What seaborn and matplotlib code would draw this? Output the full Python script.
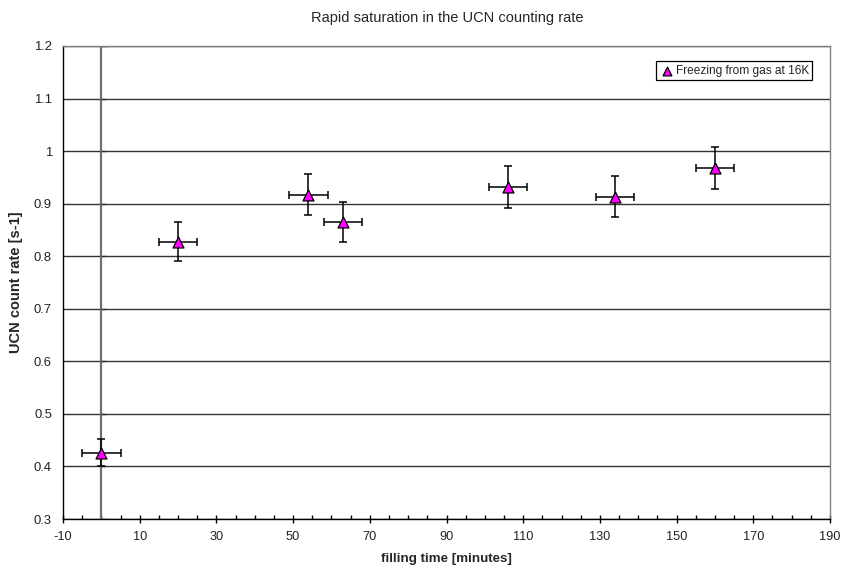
import matplotlib
matplotlib.use("Agg")
import matplotlib.pyplot as plt
from matplotlib.ticker import MultipleLocator, FixedLocator
import seaborn as sns
import pandas as pd

# ---- data ----
filling_time = [0, 20, 54, 63, 106, 134, 160]
count_rate = [0.426, 0.828, 0.917, 0.866, 0.932, 0.913, 0.968]
rate_err = [0.026, 0.038, 0.039, 0.038, 0.040, 0.039, 0.040]
time_err = [5, 5, 5, 5, 5, 5, 5]
series_label = "Freezing from gas at 16K"
title = "Rapid saturation in the UCN counting rate"
xlabel = "filling time [minutes]"
ylabel = "UCN count rate [s-1]"
x_ticks = [-10, 10, 30, 50, 70, 90, 110, 130, 150, 170, 190]
y_ticks = [0.3, 0.4, 0.5, 0.6, 0.7, 0.8, 0.9, 1.0, 1.1, 1.2]
y_ticklabels = ["0.3", "0.4", "0.5", "0.6", "0.7", "0.8", "0.9", "1", "1.1", "1.2"]

df = pd.DataFrame({"t": filling_time, "rate": count_rate,
                   "rerr": rate_err, "terr": time_err})

sns.set_theme(style="white")
plt.rcParams["font.family"] = ["Liberation Sans", "DejaVu Sans"]
plt.rcParams["axes.unicode_minus"] = False

fig = plt.figure(figsize=(8.45, 5.74), dpi=100)
ax = fig.add_axes([63 / 845, 55 / 574, 767 / 845, 473 / 574])

# gridlines
ax.set_axisbelow(True)
ax.yaxis.grid(True, color="#333333", linewidth=1.0)
ax.xaxis.grid(False)

# vertical value axis crossing at x=0
ax.axvline(0, color="#707070", linewidth=1.6, zorder=1.5)
ax.hlines(y_ticks, 0, 1.3, color="#333333", linewidth=1.0, zorder=1.6)

ax.errorbar(df["t"], df["rate"], yerr=df["rerr"], xerr=df["terr"],
            fmt="none", ecolor="black", elinewidth=1.1, capsize=2.6,
            capthick=1.1, zorder=3)
sns.scatterplot(data=df, x="t", y="rate", ax=ax, marker="^", s=62,
                color="#FF00FF", edgecolor="black", linewidth=0.9,
                label=series_label, zorder=4)

ax.set_xlim(-10, 190)
ax.set_ylim(0.3, 1.2)
ax.xaxis.set_major_locator(FixedLocator(x_ticks))
ax.xaxis.set_minor_locator(MultipleLocator(5))
ax.set_yticks(y_ticks)
ax.set_yticklabels(y_ticklabels)

ax.tick_params(axis="x", which="major", direction="inout", length=6,
               width=1, color="black", labelsize=9.2, pad=6, bottom=True)
ax.tick_params(axis="x", which="minor", direction="in", length=3,
               width=1, color="black", bottom=True)
ax.tick_params(axis="y", which="major", length=0, labelsize=9.4, pad=8)
ax.tick_params(colors="#222222", which="both")
ax.tick_params(axis="x", which="both", color="black")

for side in ["top", "right"]:
    ax.spines[side].set_color("#808080")
    ax.spines[side].set_linewidth(1.0)
for side in ["left", "bottom"]:
    ax.spines[side].set_color("black")
    ax.spines[side].set_linewidth(1.0)

ax.set_xlabel(xlabel, fontsize=9.6, fontweight="bold", labelpad=7)
ax.set_ylabel(ylabel, fontsize=10.5, fontweight="bold", labelpad=8)
fig.text(0.529, 1 - 18 / 574, title, ha="center", va="center", fontsize=10.5)

leg = ax.legend(loc="upper right", bbox_to_anchor=(0.977, 0.968),
                borderaxespad=0, fancybox=False, framealpha=1,
                edgecolor="black", fontsize=8.6, handletextpad=0.1,
                borderpad=0.3, handlelength=1.2, markerscale=0.8)
leg.get_frame().set_linewidth(0.9)

fig.savefig("out.png", dpi=100)
